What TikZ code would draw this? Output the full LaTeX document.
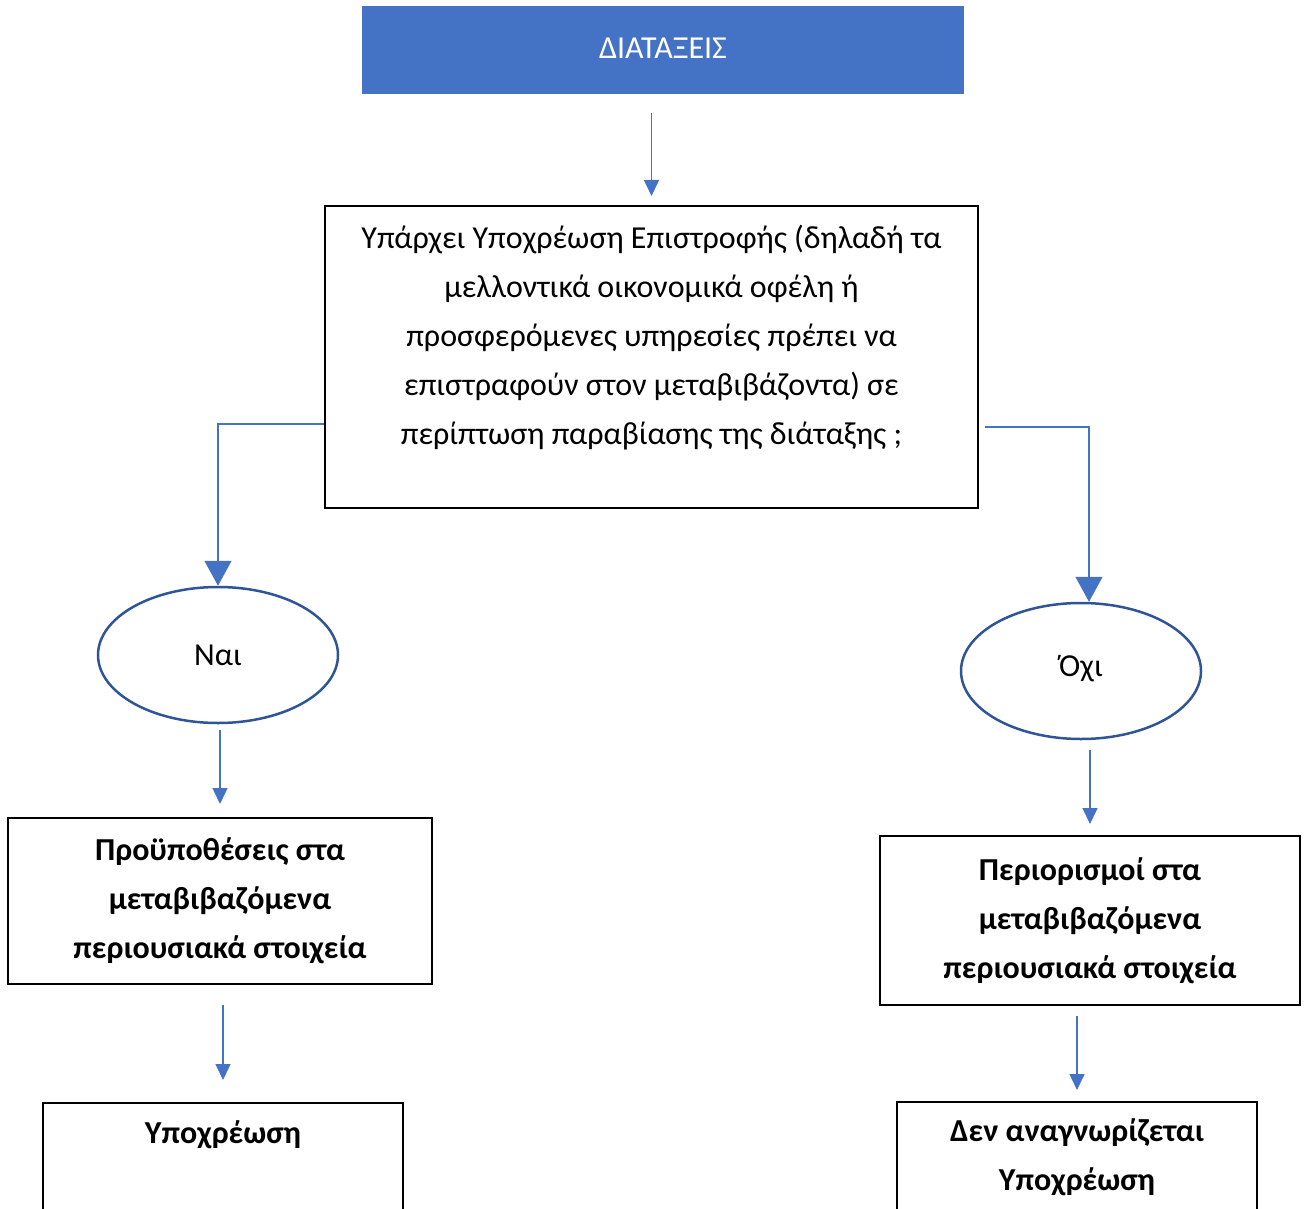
\documentclass[tikz,border=0pt]{standalone}
\usepackage{fontspec}
\setmainfont{Carlito}
\usetikzlibrary{arrows.meta,shapes.geometric}
\definecolor{wordblue}{HTML}{4472C4}
\definecolor{rimblue}{HTML}{2F5597}
\tikzset{
  headbox/.style={fill=wordblue,text=white,minimum width=602pt,minimum height=88pt},
  askbox/.style={draw=black,line width=2pt,align=center,minimum width=653pt,minimum height=302pt},
  answer/.style={ellipse,draw=rimblue,line width=2.5pt,fill=white,minimum width=240pt,minimum height=136pt,inner sep=0pt},
  resultbox/.style={draw=black,line width=2pt,align=center,font=\fontsize{32}{49}\selectfont\bfseries},
  thinarrow/.style={draw=wordblue,line width=1.5pt,-{Triangle[width=15pt,length=16pt]}},
  thickarrow/.style={draw=wordblue,line width=1.5pt,-{Triangle[width=27pt,length=25pt]}}
}
\begin{document}
\begin{tikzpicture}[x=1pt,y=-1pt,font=\fontsize{32}{49}\selectfont]
\useasboundingbox (0,0) rectangle (1304,1209);
\clip (0,0) rectangle (1304,1209);

\node[headbox] (rules) at (663,50) {\raisebox{4pt}{ΔΙΑΤΑΞΕΙΣ}};
\node[askbox] (question) at (651.5,357) {Υπάρχει Υποχρέωση Επιστροφής (δηλαδή τα\\
  μελλοντικά οικονομικά οφέλη ή\\
  προσφερόμενες υπηρεσίες πρέπει να\\
  επιστραφούν στον μεταβιβάζοντα) σε\\
  περίπτωση παραβίασης της διάταξης ;\\[-20pt] \strut};

\node[answer] (yes) at (218,655) {Ναι};
\node[answer] (no) at (1081,671) {\raisebox{10pt}{Όχι}};

\node[resultbox,minimum width=424pt,minimum height=166pt] (terms) at (220,901)
  {Προϋποθέσεις στα\\ μεταβιβαζόμενα\\ περιουσιακά στοιχεία};
\node[resultbox,minimum width=420pt,minimum height=169pt] (limits) at (1090,920.5)
  {\raisebox{3pt}{Περιορισμοί στα}\\ \raisebox{3pt}{μεταβιβαζόμενα}\\ \raisebox{3pt}{περιουσιακά στοιχεία}};
\node[resultbox,anchor=north,minimum width=360pt,minimum height=121pt] (liability) at (223,1102)
  {Υποχρέωση\\ \strut};
\node[resultbox,anchor=north,minimum width=360pt,minimum height=111pt] (noliability) at (1077,1101)
  {Δεν αναγνωρίζεται\\ Υποχρέωση};

\draw[thinarrow,shorten <=19pt,shorten >=9pt] (rules.south -| question.north) -- (question.north);
\draw[thickarrow] ([yshift=-67pt]question.west) -| (yes.north);
\draw[thickarrow] ([xshift=6pt,yshift=-70pt]question.east) -| ([xshift=8pt]no.north);

\draw[thinarrow,shorten <=6pt,shorten >=13pt] (yes.south -| terms.north) -- (terms.north);
\draw[thinarrow,shorten <=20pt,shorten >=22pt] (terms.south -| liability.north) -- (liability.north);
\draw[thinarrow,shorten <=10pt,shorten >=11pt] (no.south -| limits.north) -- (limits.north);
\draw[thinarrow,shorten <=10pt,shorten >=11pt] (limits.south -| noliability.north) -- (noliability.north);
\end{tikzpicture}
\end{document}
